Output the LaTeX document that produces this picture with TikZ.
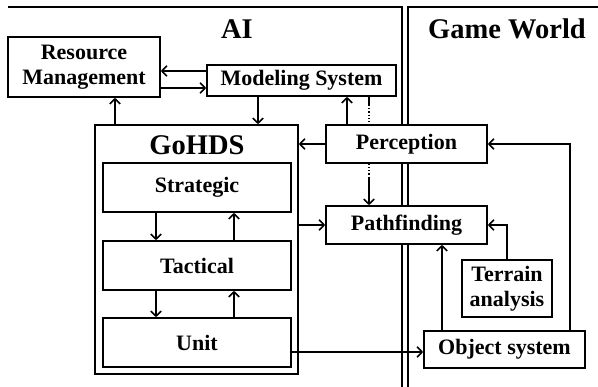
\documentclass[tikz,border=0pt]{standalone}
\usepackage{fontspec}
\setmainfont{Liberation Serif}
\usetikzlibrary{arrows.meta}
\begin{document}
\begin{tikzpicture}[x=1pt,y=-1pt,
  line width=1.6pt,
  box/.style={draw,fill=white,inner sep=0pt,align=center,
    font=\fontsize{22}{25}\selectfont\bfseries},
  title/.style={inner sep=0pt,font=\fontsize{28.5}{30}\selectfont\bfseries},
  arr/.style={-{Straight Barb[length=5pt,width=10.5pt]}}]
\useasboundingbox (0,0) rectangle (598,387);
% region frames
\draw (8,7) -- (402,7) -- (402,387);
\draw (598,7) -- (408,7) -- (408,387);
\node[title] (ai) at (237,29) {AI};
\node[title] (gw) at (507,29) {Game World};
% nodes
\node[box,minimum width=152pt,minimum height=60pt] (rm) at (84,67) {Resource\\Management};
\node[box,minimum width=189pt,minimum height=31pt] (ms) at (301.5,80.5) {Modeling System};
\node[box,minimum width=203pt,minimum height=249pt] (g) at (196.5,249.5) {};
\node[title] (gt) at (197,145) {GoHDS};
\node[box,minimum width=188pt,minimum height=49pt] (st) at (197,187.5) {Strategic};
\node[box,minimum width=188pt,minimum height=49pt] (ta) at (197,265.5) {Tactical};
\node[box,minimum width=188pt,minimum height=49pt] (un) at (197,342.5) {Unit};
\node[box,minimum width=161pt,minimum height=38pt] (pe) at (406.5,144) {Perception};
\node[box,minimum width=161pt,minimum height=38pt] (pf) at (406.5,225) {Pathfinding};
\node[box,minimum width=90pt,minimum height=57pt] (te) at (507,288.5) {Terrain\\analysis};
\node[box,minimum width=161pt,minimum height=37pt] (ob) at (504.5,349.5) {Object system};
\coordinate (d1) at (369,105);
\coordinate (d2) at (369,178);
% connectors
\draw[arr] (ms.west |- 0,71) -- (rm.east |- 0,71);
\draw[arr] (rm.east |- 0,88) -- (ms.west |- 0,88);
\draw[arr] (ms.south -| 258,0) -- (g.north -| 258,0);
\draw[arr] (g.north -| 115,0) -- (rm.south -| 115,0);
\draw[arr] (pe.west) -- (g.east |- pe.west);
\draw[arr] (pe.north -| 347,0) -- (ms.south -| 347,0);
\draw (ms.south -| d1) -- (d1);
\draw[line width=1.2pt,dotted] (d1) -- (pe.north -| d1);
\draw[line width=1.2pt,dotted] (pe.south -| d2) -- (d2);
\draw[arr] (d2) -- (pf.north -| d2);
\draw[arr] (g.east |- pf.west) -- (pf.west);
\draw[arr] (te.north) |- (pf.east);
\draw[arr] (ob.north -| 442,0) -- (pf.south -| 442,0);
\draw[arr] (un.east |- 0,352) -- (ob.west |- 0,352);
\draw[arr] (ob.north -| 570,0) |- (pe.east);
\draw[arr] (st.south -| 156,0) -- (ta.north -| 156,0);
\draw[arr] (ta.north -| 234,0) -- (st.south -| 234,0);
\draw[arr] (ta.south -| 156,0) -- (un.north -| 156,0);
\draw[arr] (un.north -| 234,0) -- (ta.south -| 234,0);
\end{tikzpicture}
\end{document}
